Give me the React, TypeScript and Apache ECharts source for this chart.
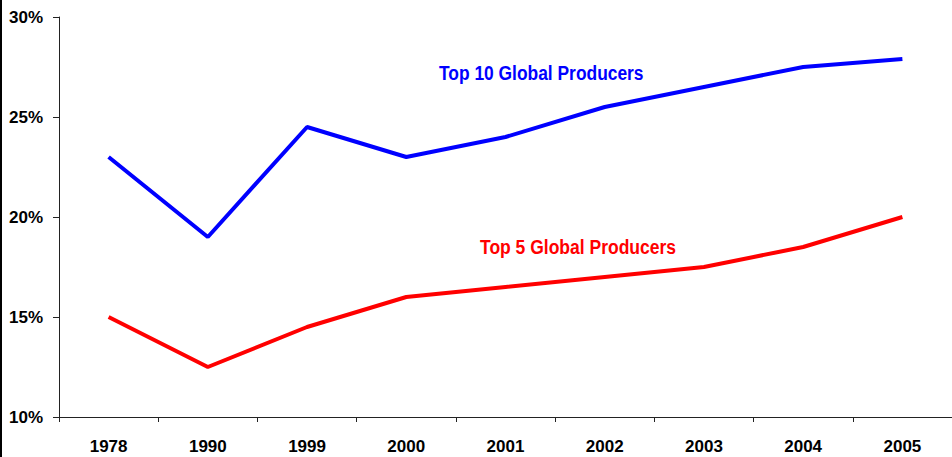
import React, { useEffect, useRef } from "react";
import * as echarts from "echarts";

const years = ["1978", "1990", "1999", "2000", "2001", "2002", "2003", "2004", "2005"];
const top10 = [23, 19, 24.5, 23, 24, 25.5, 26.5, 27.5, 27.9];
const top5 = [15, 12.5, 14.5, 16, 16.5, 17, 17.5, 18.5, 20];
const yTicks = { min: 10, max: 30, interval: 5 };
const label10 = "Top 10 Global Producers";
const label5 = "Top 5 Global Producers";

const FONT = "'Liberation Sans', Arial, sans-serif";

export default function App() {
  const ref = useRef<HTMLDivElement>(null);
  useEffect(() => {
    if (!ref.current) return;
    const chart = echarts.init(ref.current, null, { renderer: "svg" });
    chart.setOption({
      animation: false,
      backgroundColor: "#ffffff",
      grid: { left: 59, right: -2, top: 17, bottom: 40, containLabel: false },
      xAxis: {
        type: "category",
        data: years,
        boundaryGap: true,
        axisLine: { lineStyle: { color: "#222", width: 1 } },
        axisTick: { show: true, length: 5, alignWithLabel: false, lineStyle: { color: "#222" } },
        axisLabel: {
          margin: 21,
          color: "#000",
          fontFamily: FONT,
          fontWeight: "bold",
          fontSize: 17,
        },
        splitLine: { show: false },
      },
      yAxis: {
        type: "value",
        min: yTicks.min,
        max: yTicks.max,
        interval: yTicks.interval,
        axisLine: { show: true, lineStyle: { color: "#222", width: 1 } },
        axisTick: { show: true, length: 6, lineStyle: { color: "#222" } },
        axisLabel: {
          margin: 16,
          color: "#000",
          fontFamily: FONT,
          fontWeight: "bold",
          fontSize: 17,
          formatter: (v: number) => `${v}%`,
        },
        splitLine: { show: false },
      },
      series: [
        {
          type: "line",
          name: label10,
          data: top10,
          symbol: "none",
          lineStyle: { color: "#0000ff", width: 4 },
          itemStyle: { color: "#0000ff" },
        },
        {
          type: "line",
          name: label5,
          data: top5,
          symbol: "none",
          lineStyle: { color: "#ff0000", width: 4 },
          itemStyle: { color: "#ff0000" },
        },
      ],
      graphic: [
        {
          type: "rect",
          left: 0,
          top: 0,
          shape: { width: 2, height: 457 },
          style: { fill: "#000" },
        },
        {
          type: "text",
          x: 439,
          y: 73,
          scaleX: 0.87,
          style: {
            text: label10,
            fill: "#0000ff",
            font: `bold 20px ${FONT}`,
            verticalAlign: "middle",
          },
        },
        {
          type: "text",
          x: 480,
          y: 247,
          scaleX: 0.875,
          style: {
            text: label5,
            fill: "#ff0000",
            font: `bold 20px ${FONT}`,
            verticalAlign: "middle",
          },
        },
      ],
    });
    return () => chart.dispose();
  }, []);
  return (
    <div
      ref={ref}
      style={{ position: "fixed", left: 0, top: 0, width: 952, height: 457, background: "#fff" }}
    />
  );
}
